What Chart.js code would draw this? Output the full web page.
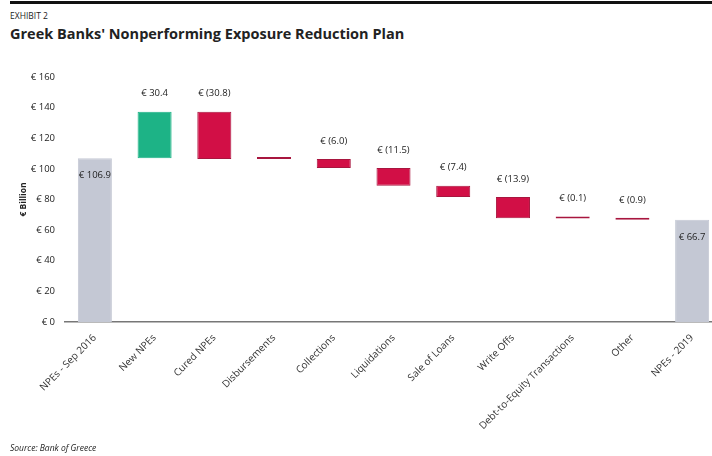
<!DOCTYPE html>
<html>
<head>
<meta charset="utf-8">
<script src="https://cdn.jsdelivr.net/npm/chart.js@4.4.0/dist/chart.umd.min.js"></script>
<style>
body{margin:0;background:#fff;font-family:"Open Sans",sans-serif;}
#wrap{position:relative;width:712px;height:456px;overflow:hidden;}
.rule{position:absolute;left:10px;right:0;top:1px;height:3px;background:#111;}
.exhibit{position:absolute;left:10px;top:10px;font-size:8.5px;color:#222;}
.title{position:absolute;left:10px;top:24px;font-size:14.5px;font-weight:bold;color:#222;}
.source{position:absolute;left:10px;top:442px;font-size:8.5px;font-style:italic;color:#222;}
canvas{position:absolute;left:0;top:0;}
</style>
</head>
<body>
<div id="wrap">
  <div class="rule"></div>
  <div class="exhibit">EXHIBIT 2</div>
  <div class="title">Greek Banks' Nonperforming Exposure Reduction Plan</div>
  <canvas id="chart" width="724" height="456"></canvas>
  <div class="source">Source: Bank of Greece</div>
</div>
<script>
// categories of the waterfall
var categories = ["NPEs - Sep 2016", "New NPEs", "Cured NPEs", "Disbursements", "Collections",
    "Liquidations", "Sale of Loans", "Write Offs", "Debt-to-Equity Transactions", "Other", "NPEs - 2019"];
var startValue = 106.9;
var changes = [30.4, -30.8, 0.0, -6.0, -11.5, -7.4, -13.9, -0.1, -0.9];
var endValue = 66.7;
var valueLabels = ["€ 106.9", "€ 30.4", "€ (30.8)", "", "€ (6.0)", "€ (11.5)", "€ (7.4)",
    "€ (13.9)", "€ (0.1)", "€ (0.9)", "€ 66.7"];
var yTicks = [0, 20, 40, 60, 80, 100, 120, 140, 160];

// build floating bars from the changes
var ranges = [[0, startValue]];
var colors = ["#c4c8d4"];
var borders = ["#c4c8d4"];
var level = startValue;
for (var i = 0; i < changes.length; i++) {
    var next = level + changes[i];
    ranges.push([level, next]);
    if (changes[i] > 0) {
        colors.push("#1db386");
        borders.push("#1db386");
    } else {
        colors.push("#d20f46");
        borders.push("#a8163f");
    }
    level = next;
}
ranges.push([0, endValue]);
colors.push("#c4c8d4");
borders.push("#c4c8d4");

// labels above changes, inside the totals
var labelPlugin = {
    id: "valueLabels",
    afterDatasetsDraw: function (chart) {
        var ctx = chart.ctx;
        var meta = chart.getDatasetMeta(0);
        ctx.save();
        ctx.font = "9.5px 'Open Sans'";
        ctx.fillStyle = "#222";
        ctx.textAlign = "center";
        ctx.textBaseline = "middle";
        meta.data.forEach(function (bar, idx) {
            var top = Math.min(bar.y, bar.base);
            var isTotal = (idx === 0 || idx === categories.length - 1);
            var y = isTotal ? top + 17 : top - 18;
            ctx.fillText(valueLabels[idx], bar.x, y);
        });
        ctx.restore();
    }
};

var ctx = document.getElementById("chart").getContext("2d");
var myChart = new Chart(ctx, {
    type: "bar",
    data: {
        labels: categories,
        datasets: [{
            data: ranges,
            backgroundColor: colors,
            borderColor: borders,
            borderWidth: 1,
            borderSkipped: false,
            minBarLength: 2,
            categoryPercentage: 1,
            barPercentage: 0.57
        }]
    },
    options: {
        responsive: false,
        animation: false,
        layout: { padding: { top: 77, right: 2, left: 14, bottom: 22 } },
        plugins: { legend: { display: false }, tooltip: { enabled: false } },
        scales: {
            x: {
                grid: { display: false },
                border: { display: true, color: "#777", width: 1.5 },
                ticks: {
                    color: "#333",
                    font: { family: "'Open Sans'", size: 10 },
                    minRotation: 45,
                    maxRotation: 45,
                    padding: 2
                }
            },
            y: {
                min: 0,
                max: 160,
                afterBuildTicks: function (axis) {
                    axis.ticks = yTicks.map(function (v) { return { value: v }; });
                },
                afterFit: function (axis) {
                    axis.width = 51;
                },
                grid: { display: false },
                border: { display: false },
                title: {
                    display: true,
                    text: "€ Billion",
                    color: "#222",
                    font: { family: "'Open Sans'", size: 8.5, weight: "bold" },
                    padding: 4
                },
                ticks: {
                    color: "#222",
                    font: { family: "'Open Sans'", size: 9.5 },
                    padding: 2,
                    callback: function (v) { return "€ " + v; }
                }
            }
        }
    },
    plugins: [labelPlugin]
});
</script>
</body>
</html>
